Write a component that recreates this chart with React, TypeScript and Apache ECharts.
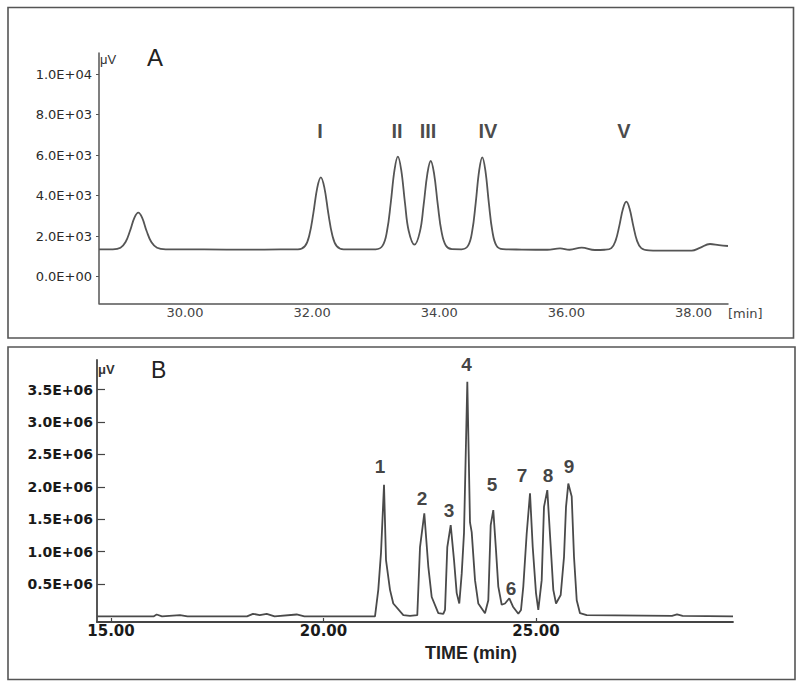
import React, { useEffect, useRef } from "react";
import * as echarts from "echarts";

// ---------- Panel A data (retention time in min, signal in µV) ----------
const timeA = [
  28.647, 28.865, 28.985, 29.065, 29.134, 29.205, 29.265, 29.325, 29.396, 29.47, 29.56, 29.7,
  30.3, 31.0, 31.5, 31.777, 31.887, 31.957, 32.019, 32.082, 32.137, 32.192, 32.255, 32.317,
  32.387, 32.497, 32.8, 33.0, 33.109, 33.179, 33.237, 33.297, 33.349, 33.401, 33.461, 33.519,
  33.61, 33.696, 33.754, 33.814, 33.866, 33.918, 33.978, 34.036, 34.106, 34.2, 34.35, 34.454,
  34.519, 34.573, 34.629, 34.677, 34.725, 34.781, 34.835, 34.9, 35.0, 35.3, 35.7, 35.9,
  36.05, 36.241, 36.45, 36.6, 36.708, 36.776, 36.833, 36.892, 36.943, 36.994, 37.053, 37.11,
  37.178, 37.3, 37.6, 37.972, 38.1, 38.26, 38.4, 38.543,
];
const signalA = [
  1353, 1353, 1429, 1711, 2257, 2914, 3160, 2914, 2257, 1711, 1430, 1353,
  1345, 1340, 1345, 1353, 1509, 2064, 3130, 4410, 4908, 4410, 3130, 2064,
  1509, 1353, 1350, 1353, 1536, 2268, 3640, 5286, 5926, 5286, 3640, 2268,
  1580, 2225, 3533, 5103, 5713, 5103, 3533, 2225, 1527, 1360, 1353, 1535,
  2262, 3625, 5260, 5896, 5260, 3625, 2262, 1535, 1360, 1340, 1330, 1402,
  1330, 1432, 1318, 1330, 1413, 1795, 2511, 3370, 3704, 3370, 2511, 1795,
  1413, 1300, 1284, 1284, 1420, 1615, 1560, 1516,
];
const xTicksA = [30, 32, 34, 36, 38];
const yTickValuesA = [0, 2000, 4000, 6000, 8000, 10000];
const yTickLabelsA = ["0.0E+00", "2.0E+03", "4.0E+03", "6.0E+03", "8.0E+03", "1.0E+04"];
const peakNamesA = ["I", "II", "III", "IV", "V"];
const peakLabelTimesA = [32.124, 33.335, 33.823, 34.767, 36.907];
const peakLabelLevelsA = [7195, 7195, 7195, 7195, 7195];

// ---------- Panel B data (time in min, signal in 1E+06 µV) ----------
const timeB = [
  14.671, 16.0, 16.075, 16.2, 16.624, 16.8, 18.2, 18.341, 18.5, 18.664, 18.85, 19.369, 19.55,
  21.212, 21.289, 21.353, 21.424, 21.471, 21.565, 21.642, 21.878, 22.035,
  22.207, 22.271, 22.372, 22.466, 22.546, 22.701, 22.819,
  22.859, 22.913, 22.993, 23.071, 23.134, 23.195,
  23.252, 23.306, 23.384, 23.447, 23.487, 23.565, 23.642, 23.8,
  23.878, 23.934, 23.995, 24.059, 24.113, 24.193,
  24.271, 24.372, 24.459, 24.584,
  24.647, 24.701, 24.781, 24.859, 24.922, 25.0, 25.054,
  25.134, 25.188, 25.266, 25.346, 25.407, 25.471, 25.581,
  25.659, 25.706, 25.76, 25.84, 25.894, 25.958, 26.035, 26.193,
  28.2, 28.318, 28.45, 29.635,
];
const signalB = [
  0, 0, 0.03, 0, 0.02, 0, 0, 0.04, 0.02, 0.04, 0, 0.03, 0,
  0, 0.41, 0.98, 2.03, 0.87, 0.41, 0.2, 0.02, 0.01,
  0.02, 1.07, 1.59, 0.77, 0.3, 0.05, 0.04,
  0.1, 1.07, 1.41, 0.87, 0.36, 0.2,
  0.66, 1.29, 3.62, 1.45, 1.3, 0.56, 0.2, 0.05,
  0.25, 1.41, 1.64, 1.02, 0.46, 0.18,
  0.2, 0.28, 0.15, 0.04,
  0.1, 0.46, 1.28, 1.9, 1.08, 0.36, 0.1,
  0.56, 1.69, 1.95, 1.08, 0.41, 0.2, 0.33,
  0.92, 1.69, 2.05, 1.85, 0.92, 0.25, 0.05, 0.02,
  0.01, 0.03, 0.01, 0,
];
const xTicksB = [15, 20, 25];
const yTickValuesB = [0.5, 1.0, 1.5, 2.0, 2.5, 3.0, 3.5];
const yTickLabelsB = ["0.5E+06", "1.0E+06", "1.5E+06", "2.0E+06", "2.5E+06", "3.0E+06", "3.5E+06"];
const peakNamesB = ["1", "2", "3", "4", "5", "6", "7", "8", "9"];
const peakLabelTimesB = [21.329, 22.318, 22.953, 23.365, 23.965, 24.412, 24.671, 25.282, 25.776];
const peakLabelLevelsB = [2.306, 1.827, 1.627, 3.88, 2.043, 0.438, 2.182, 2.182, 2.306];

const DJ = '"DejaVu Sans", Verdana, sans-serif';
const AR = '"Liberation Sans", Arial, Helvetica, sans-serif';

function txt(text: string, x: number, y: number, font: string, align = "left", fill = "#222") {
  return {
    type: "text",
    x,
    y,
    silent: true,
    style: {
      text,
      font,
      fill,
      align,
      textAlign: align,
      verticalAlign: "middle",
      textVerticalAlign: "middle",
    },
  };
}

export default function App() {
  const ref = useRef<HTMLDivElement>(null);

  useEffect(() => {
    if (!ref.current) return;
    const chart = echarts.init(ref.current, null, { renderer: "svg" });

    const lineA = timeA.map((t, i) => [t, signalA[i]]);
    const lineB = timeB.map((t, i) => [t, signalB[i] * 1e6]);
    const labA = peakNamesA.map((n, i) => ({ name: n, value: [peakLabelTimesA[i], peakLabelLevelsA[i]] }));
    const labB = peakNamesB.map((n, i) => ({ name: n, value: [peakLabelTimesB[i], peakLabelLevelsB[i] * 1e6] }));

    const option: any = {
      animation: false,
      backgroundColor: "#ffffff",
      graphic: [
        { type: "rect", silent: true, shape: { x: 8, y: 7.5, width: 785.5, height: 330.5 }, style: { fill: "none", stroke: "#555", lineWidth: 1.6 } },
        { type: "rect", silent: true, shape: { x: 8, y: 347, width: 787, height: 332.5 }, style: { fill: "none", stroke: "#555", lineWidth: 1.6 } },
        txt("A", 147, 57, `24px ${AR}`),
        txt("μV", 100, 59, `13px ${AR}`, "left", "#333"),
        txt("[min]", 728, 313, `13px ${DJ}`, "left", "#444"),
        txt("B", 151, 370, `23px ${AR}`),
        txt("μV", 98, 369, `bold 13px ${AR}`, "left", "#333"),
        txt("TIME (min)", 471, 653, `bold 18px ${AR}`, "center", "#222"),
      ],
      grid: [
        { left: 99, top: 53, width: 629, height: 250.3 },
        { left: 97, top: 360, width: 636, height: 262 },
      ],
      xAxis: [
        {
          type: "value",
          gridIndex: 0,
          min: 28.647,
          max: 38.543,
          splitLine: { show: false },
          axisLine: { show: true, onZero: false, lineStyle: { color: "#555", width: 1.5 } },
          axisTick: { show: false },
          axisLabel: {
            customValues: xTicksA,
            formatter: (v: number) => v.toFixed(2),
            fontFamily: DJ,
            fontSize: 13,
            color: "#444",
            margin: 3,
          },
        },
        {
          type: "value",
          gridIndex: 1,
          min: 14.671,
          max: 29.635,
          splitLine: { show: false },
          axisLine: { show: true, onZero: false, lineStyle: { color: "#444", width: 1.8 } },
          axisTick: { show: true, inside: true, length: 4, customValues: xTicksB, lineStyle: { color: "#444", width: 1.2 } },
          axisLabel: {
            customValues: xTicksB,
            formatter: (v: number) => v.toFixed(2),
            fontFamily: DJ,
            fontWeight: "bold",
            fontSize: 15,
            color: "#1a1a1a",
            margin: 1,
          },
        },
      ],
      yAxis: [
        {
          type: "value",
          gridIndex: 0,
          min: -1313,
          max: 11046,
          splitLine: { show: false },
          axisLine: { show: true, onZero: false, lineStyle: { color: "#555", width: 1.5 } },
          axisTick: { show: true, length: 3, customValues: yTickValuesA, lineStyle: { color: "#555" } },
          axisLabel: {
            customValues: yTickValuesA,
            formatter: (v: number) => yTickLabelsA[yTickValuesA.indexOf(v)] ?? "",
            fontFamily: DJ,
            fontSize: 13,
            color: "#2a2a2a",
            margin: 7,
          },
        },
        {
          type: "value",
          gridIndex: 1,
          min: -0.086e6,
          max: 3.957e6,
          splitLine: { show: false },
          axisLine: { show: true, onZero: false, lineStyle: { color: "#444", width: 1.8 } },
          axisTick: { show: true, inside: true, length: 8, customValues: yTickValuesB.map((v) => v * 1e6), lineStyle: { color: "#444", width: 1.2 } },
          axisLabel: {
            customValues: yTickValuesB.map((v) => v * 1e6),
            formatter: (v: number) => {
              const i = yTickValuesB.findIndex((u) => Math.abs(u * 1e6 - v) < 1);
              return i >= 0 ? yTickLabelsB[i] : "";
            },
            fontFamily: DJ,
            fontWeight: "bold",
            fontSize: 14,
            color: "#1a1a1a",
            margin: 4,
          },
        },
      ],
      series: [
        {
          type: "line",
          xAxisIndex: 0,
          yAxisIndex: 0,
          data: lineA,
          smooth: 0.4,
          showSymbol: false,
          lineStyle: { color: "#555", width: 1.8 },
          silent: true,
        },
        {
          type: "line",
          xAxisIndex: 1,
          yAxisIndex: 1,
          data: lineB,
          smooth: false,
          showSymbol: false,
          lineStyle: { color: "#4a4a4a", width: 1.8 },
          silent: true,
        },
        {
          type: "scatter",
          xAxisIndex: 0,
          yAxisIndex: 0,
          data: labA,
          symbolSize: 1,
          itemStyle: { color: "rgba(0,0,0,0)" },
          silent: true,
          label: {
            show: true,
            position: "inside",
            formatter: "{b}",
            fontFamily: AR,
            fontWeight: "bold",
            fontSize: 20,
            color: "#1a1a1a",
          },
        },
        {
          type: "scatter",
          xAxisIndex: 1,
          yAxisIndex: 1,
          data: labB,
          symbolSize: 1,
          itemStyle: { color: "rgba(0,0,0,0)" },
          silent: true,
          label: {
            show: true,
            position: "inside",
            formatter: "{b}",
            fontFamily: AR,
            fontWeight: "bold",
            fontSize: 19,
            color: "#111",
          },
        },
      ],
    };

    chart.setOption(option);
    return () => chart.dispose();
  }, []);

  return (
    <div
      ref={ref}
      style={{ position: "absolute", left: 0, top: 0, width: 800, height: 686, background: "#fff" }}
    />
  );
}
